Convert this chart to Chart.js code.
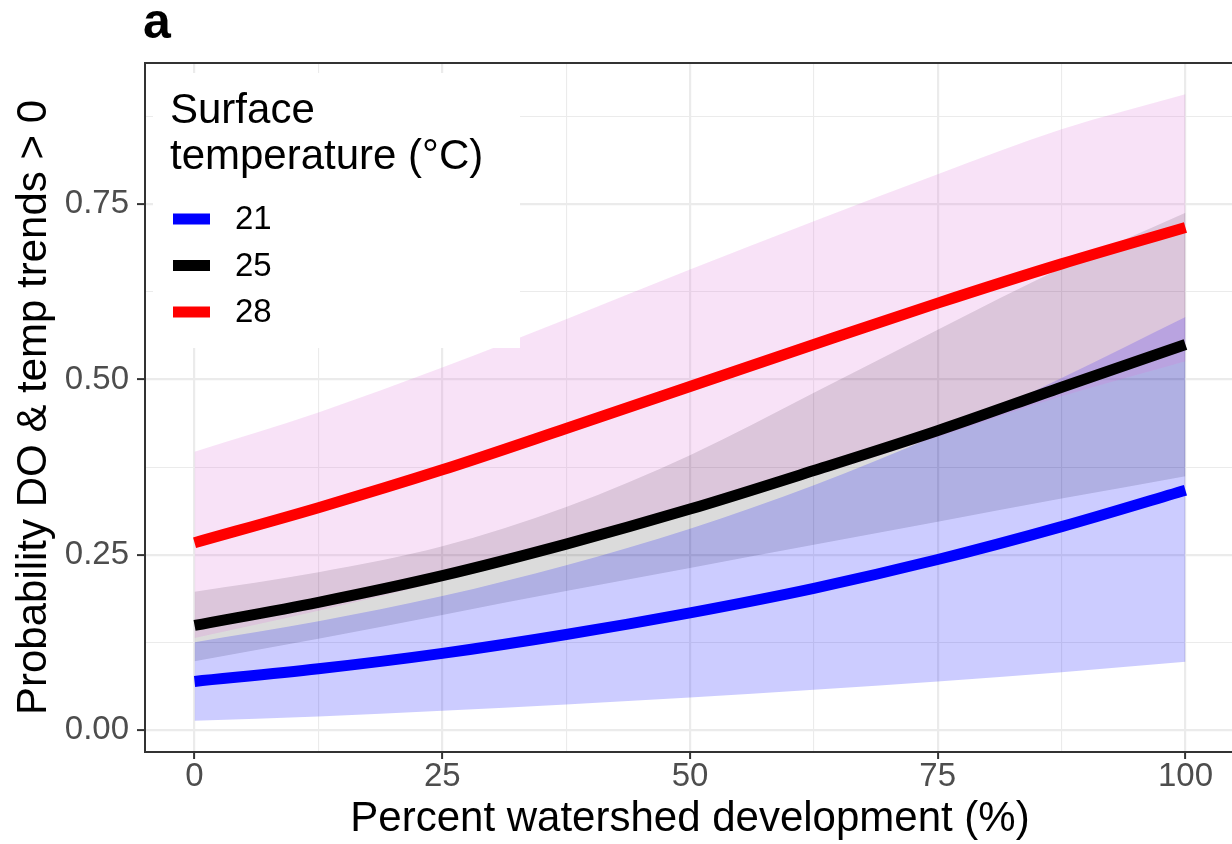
<!DOCTYPE html>
<html><head><meta charset="utf-8">
<script src="https://cdn.jsdelivr.net/npm/chart.js@4.4.1/dist/chart.umd.min.js"></script>
<style>
html,body{margin:0;padding:0;background:#fff;overflow:hidden;}
#wrap{position:relative;width:1240px;height:844px;}
</style></head><body>
<div id="wrap"><canvas id="c"></canvas></div>
<script>
// ---- data ----
const xDev   = [0, 12.5, 25, 37.5, 50, 62.5, 75, 87.5, 100];
const line21 = [0.069, 0.087, 0.109, 0.136, 0.167, 0.202, 0.243, 0.290, 0.342];
const lo21   = [0.013, 0.019, 0.027, 0.036, 0.046, 0.057, 0.069, 0.082, 0.097];
const hi21   = [0.125, 0.155, 0.191, 0.235, 0.287, 0.349, 0.421, 0.502, 0.589];
const line25 = [0.149, 0.182, 0.220, 0.265, 0.315, 0.370, 0.427, 0.489, 0.550];
const lo25   = [0.098, 0.130, 0.164, 0.198, 0.231, 0.264, 0.297, 0.330, 0.362];
const hi25   = [0.197, 0.225, 0.262, 0.318, 0.392, 0.481, 0.571, 0.659, 0.738];
const line28 = [0.267, 0.317, 0.371, 0.430, 0.490, 0.550, 0.609, 0.665, 0.717];
const lo28   = [0.131, 0.170, 0.212, 0.258, 0.308, 0.362, 0.418, 0.476, 0.526];
const hi28   = [0.397, 0.453, 0.517, 0.586, 0.657, 0.726, 0.793, 0.857, 0.907];
const legendLabels = ['21', '25', '28'];
const xMajor = [0, 25, 50, 75, 100];
const xMinor = [12.5, 37.5, 62.5, 87.5];
const yMajor = [0, 0.25, 0.5, 0.75];
const yMinor = [0.125, 0.375, 0.625, 0.875];

const FONT = '"Liberation Sans", Arial, Helvetica, sans-serif';
Chart.defaults.font.family = FONT;

const pts = arr => arr.map((v, i) => ({x: xDev[i], y: v}));
const lineColors = ['#0000ff', '#000000', '#ff0000'];

function lineDs(data, color) {
  return {data: pts(data), borderColor: color, borderWidth: 11, pointRadius: 0,
          fill: false, cubicInterpolationMode: 'monotone', borderCapStyle: 'butt'};
}
function upperDs(data, fillColor) {
  return {data: pts(data), borderColor: 'rgba(0,0,0,0)', borderWidth: 0, pointRadius: 0,
          backgroundColor: fillColor, fill: '+1', cubicInterpolationMode: 'monotone'};
}
function lowerDs(data) {
  return {data: pts(data), borderColor: 'rgba(0,0,0,0)', borderWidth: 0, pointRadius: 0,
          fill: false, cubicInterpolationMode: 'monotone'};
}

const isIn = (arr, v) => arr.some(a => Math.abs(a - v) < 1e-9);

const panelPlugin = {
  id: 'panel',
  afterDatasetsDraw(chart) {
    const {ctx, chartArea: a} = chart;
    ctx.save();
    // legend box (inside panel, top-left)
    const lx = a.left + 8, ly = a.top + 10;
    ctx.fillStyle = '#ffffff';
    ctx.fillRect(lx, ly, 367, 275);
    ctx.fillStyle = '#000000';
    ctx.textAlign = 'left';
    ctx.textBaseline = 'alphabetic';
    ctx.font = '42px ' + FONT;
    ctx.fillText('Surface', lx + 17, ly + 50);
    ctx.fillText('temperature (°C)', lx + 17, ly + 96);
    ctx.font = '33px ' + FONT;
    ctx.textBaseline = 'middle';
    for (let i = 0; i < legendLabels.length; i++) {
      const cy = ly + 146 + i * 46.5;
      ctx.strokeStyle = lineColors[i];
      ctx.lineWidth = 11;
      ctx.lineCap = 'butt';
      ctx.beginPath();
      ctx.moveTo(lx + 20, cy);
      ctx.lineTo(lx + 57, cy);
      ctx.stroke();
      ctx.fillStyle = '#000000';
      ctx.fillText(legendLabels[i], lx + 82, cy + 1);
    }
    // panel border
    ctx.strokeStyle = '#333333';
    ctx.lineWidth = 2;
    ctx.strokeRect(a.left, a.top, a.right - a.left, a.bottom - a.top);
    // panel tag
    ctx.fillStyle = '#000000';
    ctx.font = 'bold 50px "Liberation Sans", Arial, sans-serif';
    ctx.textBaseline = 'alphabetic';
    ctx.textAlign = 'left';
    ctx.fillText('a', a.left - 2, 38);
    ctx.restore();
  }
};

new Chart(document.getElementById('c'), {
  type: 'line',
  data: {
    datasets: [
      lineDs(line28, lineColors[2]),
      lineDs(line25, lineColors[1]),
      lineDs(line21, lineColors[0]),
      upperDs(hi28, 'rgba(218,112,214,0.2)'),
      lowerDs(lo28),
      upperDs(hi21, 'rgba(0,0,255,0.2)'),
      lowerDs(lo21),
      upperDs(hi25, 'rgba(0,0,0,0.14)'),
      lowerDs(lo25)
    ]
  },
  options: {
    responsive: true,
    maintainAspectRatio: false,
    animation: false,
    layout: {padding: {top: 63, right: 5, left: 0, bottom: 0}},
    plugins: {legend: {display: false}, tooltip: {enabled: false}, title: {display: false}},
    scales: {
      x: {
        type: 'linear', min: -5, max: 105,
        afterBuildTicks: s => { s.ticks = [...xMajor, ...xMinor].sort((p, q) => p - q).map(v => ({value: v})); },
        afterFit: s => { s.height = 92; },
        border: {display: false},
        grid: {
          color: '#ebebeb',
          lineWidth: c => isIn(xMinor, c.tick.value) ? 1.1 : 2.2,
          tickColor: c => isIn(xMinor, c.tick.value) ? 'rgba(0,0,0,0)' : '#333333',
          tickWidth: 2, tickLength: 7, drawTicks: true
        },
        ticks: {
          autoSkip: false, maxRotation: 0, minRotation: 0, padding: 1,
          color: '#4d4d4d', font: {size: 33, lineHeight: 1},
          callback: v => isIn(xMajor, v) ? String(v) : ''
        },
        title: {display: true, text: 'Percent watershed development (%)', color: '#000000',
                font: {size: 42, lineHeight: 1}, padding: {top: 0, bottom: 4}}
      },
      y: {
        type: 'linear', min: -0.0317, max: 0.9517,
        afterBuildTicks: s => { s.ticks = [...yMajor, ...yMinor].sort((p, q) => p - q).map(v => ({value: v})); },
        afterFit: s => { s.width = 145; },
        border: {display: false},
        grid: {
          color: '#ebebeb',
          lineWidth: c => isIn(yMinor, c.tick.value) ? 1.1 : 2.2,
          tickColor: c => isIn(yMinor, c.tick.value) ? 'rgba(0,0,0,0)' : '#333333',
          tickWidth: 2, tickLength: 8, drawTicks: true
        },
        ticks: {
          autoSkip: false, padding: 8,
          color: '#4d4d4d', font: {size: 33, lineHeight: 1},
          callback: v => isIn(yMajor, v) ? v.toFixed(2) : ''
        },
        title: {display: true, text: 'Probability DO & temp trends > 0', color: '#000000',
                font: {size: 42, lineHeight: 1}, padding: {top: 13, bottom: 0}}
      }
    }
  },
  plugins: [panelPlugin]
});
</script>
</body></html>
